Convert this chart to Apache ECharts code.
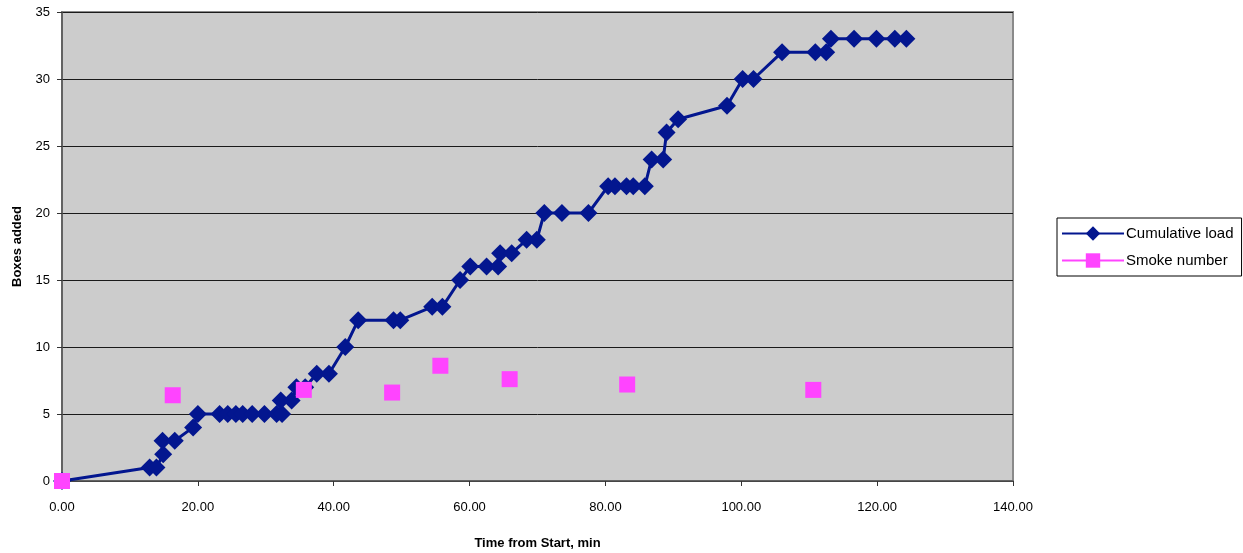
<!DOCTYPE html>
<html>
<head>
<meta charset="utf-8">
<script src="https://cdn.jsdelivr.net/npm/echarts@6/dist/echarts.min.js"></script>
<style>
html,body{margin:0;padding:0;background:#fff;}
#chart{width:1243px;height:553px;}
</style>
</head>
<body>
<div id="chart"></div>
<script>
const loadTime = [0, 12.9, 13.9, 14.9, 14.8, 16.6, 19.3, 20.0, 23.2, 24.4, 25.6, 26.6, 28.0, 29.8, 31.6, 32.4, 32.2, 33.8, 34.5, 35.8, 37.5, 39.3, 41.7, 43.6, 48.8, 49.8, 54.5, 56.0, 58.6, 60.1, 62.5, 64.2, 64.5, 66.2, 68.4, 69.9, 71.0, 73.6, 77.5, 80.4, 81.4, 83.1, 84.1, 85.8, 86.8, 88.5, 89.0, 90.7, 97.9, 100.2, 101.8, 106.0, 110.9, 112.5, 113.2, 116.6, 119.9, 122.6, 124.3];
const loadBoxes = [0, 1, 1, 2, 3, 3, 4, 5, 5, 5, 5, 5, 5, 5, 5, 5, 6, 6, 7, 7, 8, 8, 10, 12, 12, 12, 13, 13, 15, 16, 16, 16, 17, 17, 18, 18, 20, 20, 20, 22, 22, 22, 22, 22, 24, 24, 26, 27, 28, 30, 30, 32, 32, 32, 33, 33, 33, 33, 33];
const smokeTime = [0, 16.3, 35.6, 48.6, 55.7, 65.9, 83.2, 110.6];
const smokeValue = [0, 6.4, 6.8, 6.6, 8.6, 7.6, 7.2, 6.8];
const seriesNames = ['Cumulative load', 'Smoke number'];
const xTitle = 'Time from Start, min';
const yTitle = 'Boxes added';

const NAVY = '#03168f';
const PINK = '#ff44ff';
const FONT = 'Liberation Sans, Arial, sans-serif';

const chart = echarts.init(document.getElementById('chart'), null, {renderer: 'canvas'});
chart.setOption({
  animation: false,
  backgroundColor: '#ffffff',
  textStyle: {fontFamily: FONT},
  grid: {
    left: 62, right: 230, top: 12, bottom: 72,
    outerBoundsMode: 'none', containLabel: false,
    show: true, backgroundColor: '#cccccc', borderColor: '#8a8a8a', borderWidth: 2
  },
  legend: {
    orient: 'vertical',
    left: 1057, top: 218,
    padding: [8, 8, 8, 4],
    itemGap: 12,
    itemWidth: 62, itemHeight: 18,
    backgroundColor: '#ffffff',
    borderColor: '#000000', borderWidth: 1, borderRadius: 0,
    textStyle: {fontFamily: FONT, fontSize: 15, color: '#000', padding: [0, 0, 0, -3]},
    data: [
      {name: seriesNames[0]},
      {name: seriesNames[1], lineStyle: {opacity: 1, color: PINK, width: 2}}
    ]
  },
  xAxis: {
    type: 'value', min: 0, max: 140, interval: 20,
    name: xTitle, nameLocation: 'middle', nameGap: 56,
    nameTextStyle: {fontFamily: FONT, fontSize: 13, fontWeight: 'bold', color: '#000'},
    axisLine: {show: true, onZero: false, lineStyle: {color: '#555', width: 1.5}},
    axisTick: {show: true, inside: false, length: 5, lineStyle: {color: '#333'}},
    axisLabel: {fontFamily: FONT, fontSize: 13, color: '#000', margin: 20, formatter: v => v.toFixed(2)},
    splitLine: {show: false}
  },
  yAxis: {
    type: 'value', min: 0, max: 35, interval: 5,
    name: yTitle, nameLocation: 'middle', nameGap: 38, nameRotate: 90,
    nameTextStyle: {fontFamily: FONT, fontSize: 13, fontWeight: 'bold', color: '#000'},
    axisLine: {show: true, lineStyle: {color: '#555', width: 1.5}},
    axisTick: {show: true, inside: false, length: 5, lineStyle: {color: '#333'}},
    axisLabel: {fontFamily: FONT, fontSize: 13, color: '#000', margin: 12},
    splitLine: {show: true, lineStyle: {color: '#1a1a1a', width: 1}}
  },
  series: [
    {
      name: seriesNames[0], type: 'line',
      data: loadTime.map((t, i) => [t, loadBoxes[i]]),
      symbol: 'diamond', symbolSize: 18,
      lineStyle: {color: NAVY, width: 3},
      itemStyle: {color: NAVY},
      z: 3
    },
    {
      name: seriesNames[1], type: 'line',
      data: smokeTime.map((t, i) => [t, smokeValue[i]]),
      symbol: 'rect', symbolSize: 16,
      lineStyle: {color: PINK, width: 2, opacity: 0},
      itemStyle: {color: PINK},
      z: 4
    }
  ]
});
</script>
</body>
</html>
